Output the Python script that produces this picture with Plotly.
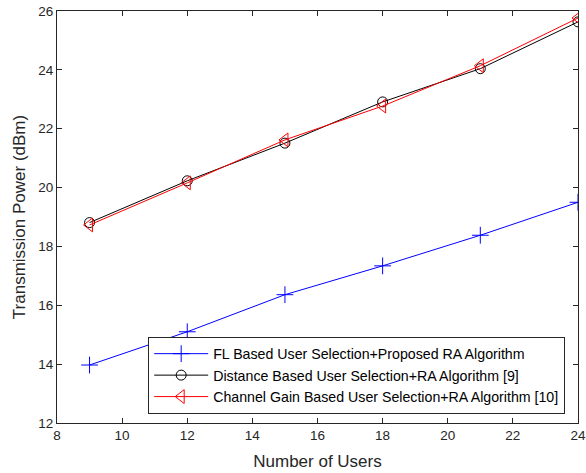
import plotly.graph_objects as go

users = [9, 12, 15, 18, 21, 24]
fl_power = [13.97, 15.10, 16.36, 17.34, 18.38, 19.50]
dist_power = [18.81, 20.23, 21.51, 22.91, 24.04, 25.63]
cg_power = [18.73, 20.16, 21.62, 22.77, 24.14, 25.76]

names = [
    "FL Based User Selection+Proposed RA Algorithm",
    "Distance Based User Selection+RA Algorithm [9]",
    "Channel Gain Based User Selection+RA Algorithm [10]",
]

FONT = "Liberation Sans, Arial"

fig = go.Figure()
fig.add_trace(go.Scatter(x=users, y=fl_power, mode="lines+markers", name=names[0],
                         line=dict(color="#0000ff", width=1),
                         marker=dict(symbol="cross-thin", size=12, color="#0000ff",
                                     line=dict(color="#0000ff", width=1))))
fig.add_trace(go.Scatter(x=users, y=dist_power, mode="lines+markers", name=names[1],
                         line=dict(color="#000000", width=1),
                         marker=dict(symbol="circle-open", size=10, color="#000000",
                                     line=dict(color="#000000", width=1))))
fig.add_trace(go.Scatter(x=users, y=cg_power, mode="lines+markers", name=names[2],
                         line=dict(color="#ff0000", width=1),
                         marker=dict(symbol="triangle-left-open", size=12, color="#ff0000",
                                     line=dict(color="#ff0000", width=1))))

axis_common = dict(showgrid=False, zeroline=False, showline=True, mirror="ticks",
                   linecolor="#262626", linewidth=1, ticks="inside", ticklen=5,
                   tickcolor="#262626", automargin=False,
                   tickfont=dict(family=FONT, size=13.5, color="#262626"))

fig.update_xaxes(range=[8, 24], tickvals=[8, 10, 12, 14, 16, 18, 20, 22, 24],
                 title=dict(text="Number of Users", font=dict(family=FONT, size=17, color="#262626"), standoff=12),
                 **axis_common)
fig.update_yaxes(range=[12, 26], tickvals=[12, 14, 16, 18, 20, 22, 24, 26],
                 title=dict(text="Transmission Power (dBm)", font=dict(family=FONT, size=17, color="#262626"), standoff=8),
                 **axis_common)

fig.update_layout(
    width=586, height=473,
    margin=dict(l=57, r=8, t=11, b=50),
    plot_bgcolor="white", paper_bgcolor="white",
    legend=dict(x=0.175, y=0.022, xanchor="left", yanchor="bottom",
                bgcolor="white", bordercolor="#262626", borderwidth=1,
                font=dict(family=FONT, size=14.2, color="#000000"),
                tracegroupgap=0, itemwidth=54),
    showlegend=True,
)

fig.write_html("out.html", config={"displayModeBar": False},
               post_script="document.body.style.margin='0';document.body.style.overflow='hidden';")
